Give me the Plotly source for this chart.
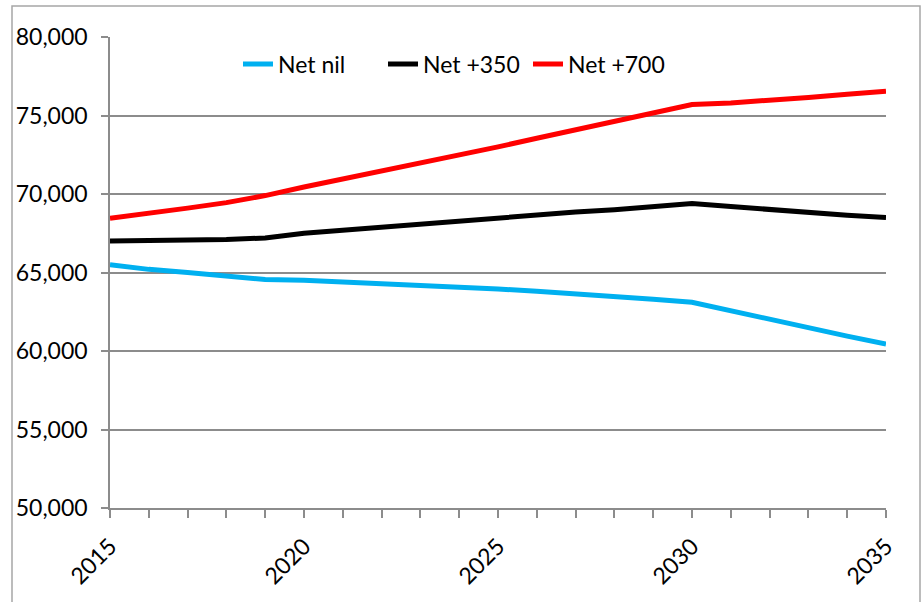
import plotly.graph_objects as go

# Population projections by migration scenario
years = list(range(2015, 2036))
net_nil = [65500, 65200, 65000, 64750, 64550, 64500, 64400, 64300, 64200, 64050,
           63950, 63800, 63650, 63450, 63300, 63100, 62550, 62000, 61450, 60950, 60450]
net_350 = [67000, 67000, 67070, 67100, 67200, 67500, 67700, 67900, 68100, 68300,
           68450, 68650, 68850, 69000, 69200, 69400, 69200, 69000, 68800, 68650, 68500]
net_700 = [68450, 68750, 69100, 69450, 69900, 70450, 70950, 71450, 71950, 72450,
           73000, 73550, 74100, 74600, 75150, 75700, 75800, 75950, 76150, 76350, 76550]

series_names = ["Net nil", "Net +350", "Net +700"]
series_colors = ["#00b0f0", "#000000", "#ff0000"]

FONT = "Lato, 'Open Sans', sans-serif"
GRID = "#8c8c8c"

fig = go.Figure()
for name, vals, col in zip(series_names, [net_nil, net_350, net_700], series_colors):
    fig.add_trace(go.Scatter(x=years, y=vals, name=name, mode="lines",
                             line=dict(color=col, width=5)))

W, H = 922, 602
L, R, T, B = 110, 36, 37, 94
pw, ph = W - L - R, H - T - B

def px_x(x):
    return (x - L) / pw

def px_y(y):
    return (H - B - y) / ph

fig.update_layout(
    width=W, height=H,
    margin=dict(l=L, r=R, t=T, b=B),
    paper_bgcolor="white", plot_bgcolor="white",
    font=dict(family=FONT, size=23, color="#000000"),
    showlegend=True,
    legend=dict(orientation="h", x=px_x(238), y=px_y(64), xanchor="left", yanchor="middle",
                font=dict(size=23), bgcolor="rgba(0,0,0,0)", itemwidth=30,
                entrywidth=100, entrywidthmode="pixels", tracegroupgap=0),
    xaxis=dict(range=[2015, 2035], tickmode="linear", tick0=2015, dtick=5,
               tickangle=-45, ticks="outside", ticklen=8, tickcolor=GRID, tickwidth=1.5,
               minor=dict(dtick=1, ticks="outside", ticklen=8, tickcolor=GRID, tickwidth=1.5),
               showgrid=False, zeroline=False, showline=True, linecolor=GRID, linewidth=1.5,
               ticklabelstandoff=6),
    yaxis=dict(range=[50000, 80000], tickmode="linear", tick0=50000, dtick=5000,
               tickformat=",d", ticks="outside", ticklen=7, tickcolor=GRID, tickwidth=1.5,
               showgrid=True, gridcolor=GRID, gridwidth=1.5, zeroline=False,
               showline=True, linecolor=GRID, linewidth=1.5, ticklabelstandoff=9),
    shapes=[dict(type="rect", xref="paper", yref="paper",
                 x0=px_x(12), x1=px_x(920), y0=px_y(610), y1=px_y(6),
                 line=dict(color="#a6a6a6", width=1.5), layer="below")],
)

fig.write_html("out.html")
